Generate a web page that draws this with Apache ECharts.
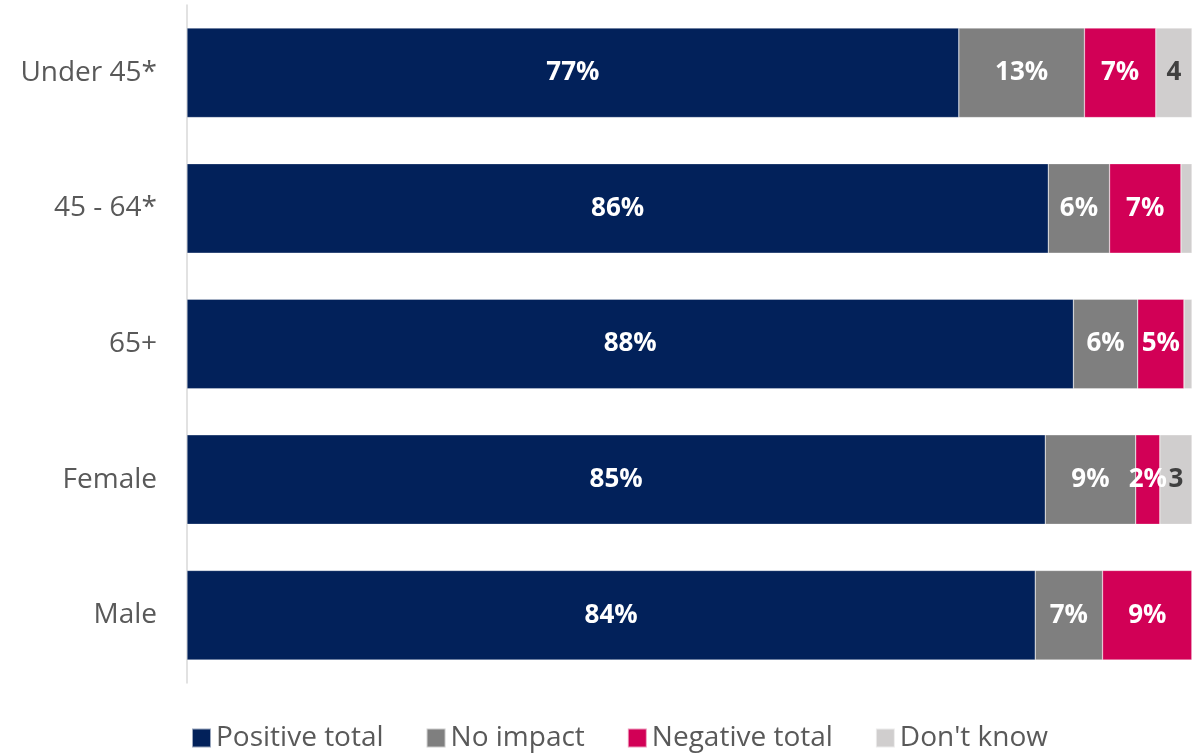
<!DOCTYPE html>
<html>
<head>
<meta charset="utf-8">
<script src="https://cdn.jsdelivr.net/npm/echarts@6/dist/echarts.min.js"></script>
<style>
  html, body { margin: 0; padding: 0; background: #fff; }
  #chart { width: 1198px; height: 753px; }
</style>
</head>
<body>
<div id="chart"></div>
<script>
// categories, top to bottom
const categories = ['Under 45*', '45 - 64*', '65+', 'Female', 'Male'];

// shares in percent
const positiveTotal = [76.8, 85.7, 88.2, 85.4, 84.4];
const noImpact = [12.5, 6.1, 6.4, 9.0, 6.7];
const negativeTotal = [7.1, 7.1, 4.6, 2.4, 8.9];
const dontKnow = [3.6, 1.1, 0.8, 3.2, 0];

const labelFont = '"Open Sans", "Noto Sans", sans-serif';

function makeSeries(name, data, color, labelColor, withPercent) {
  return {
    name,
    type: 'bar',
    stack: 'total',
    data,
    barCategoryGap: '34%',
    itemStyle: {
      color,
      borderColor: 'rgba(255,255,255,0.6)',
      borderWidth: 0.5
    },
    label: {
      show: true,
      position: 'inside',
      color: labelColor,
      fontFamily: labelFont,
      fontWeight: 'bold',
      fontSize: 26,
      formatter: (p) => {
        if (p.value < 2) return '';
        const v = Math.round(p.value);
        return withPercent ? v + '%' : String(v);
      }
    },
    emphasis: { disabled: true }
  };
}

const chart = echarts.init(document.getElementById('chart'), null, { renderer: 'canvas' });

chart.setOption({
  animation: false,
  grid: {
    left: 187,
    right: 6,
    top: 5,
    bottom: 70,
    containLabel: false
  },
  legend: {
    bottom: -4,
    left: 186,
    itemWidth: 19,
    itemHeight: 19,
    itemGap: 42,
    icon: 'rect',
    textStyle: {
      fontFamily: labelFont,
      fontSize: 28,
      color: '#595959'
    },
    data: ['Positive total', 'No impact', 'Negative total', "Don't know"]
  },
  xAxis: {
    type: 'value',
    min: 0,
    max: 100,
    show: false
  },
  yAxis: {
    type: 'category',
    data: categories,
    inverse: true,
    axisLine: { show: true, lineStyle: { color: '#d9d9d9', width: 1.5 } },
    axisTick: { show: false },
    axisLabel: {
      margin: 30,
      fontFamily: labelFont,
      fontSize: 28,
      color: '#595959'
    }
  },
  series: [
    makeSeries('Positive total', positiveTotal, '#02215a', '#ffffff', true),
    makeSeries('No impact', noImpact, '#7f7f7f', '#ffffff', true),
    makeSeries('Negative total', negativeTotal, '#d20056', '#ffffff', true),
    makeSeries("Don't know", dontKnow, '#d0cece', '#404040', false)
  ]
});
</script>
</body>
</html>
